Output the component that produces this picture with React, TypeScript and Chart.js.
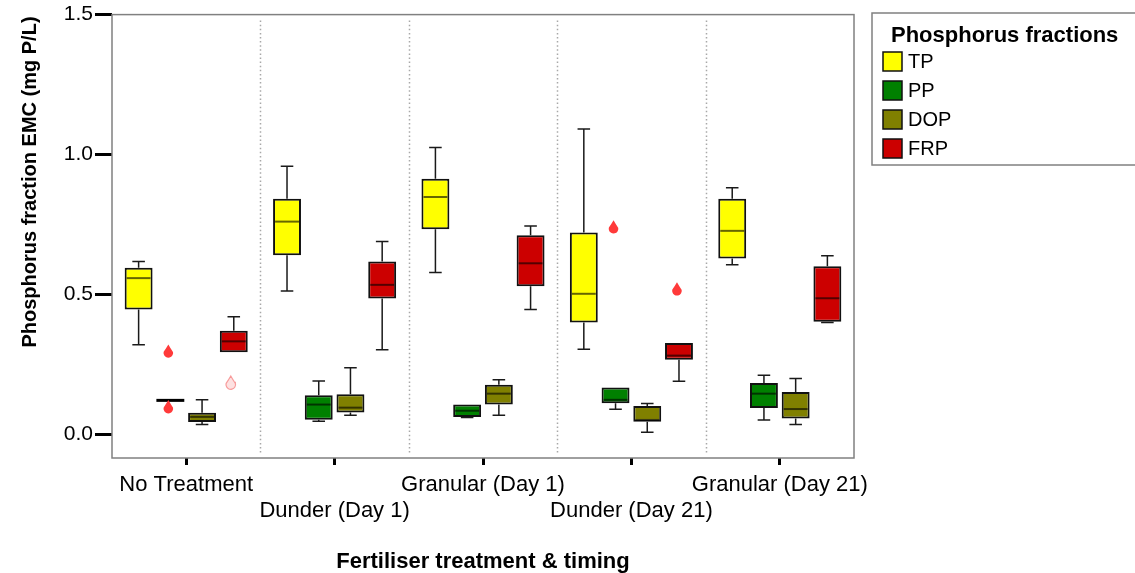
import React, { useEffect, useRef } from 'react';
import { Chart, registerables } from 'chart.js';

Chart.register(...registerables);

const CATEGORIES = ['No Treatment', 'Dunder (Day 1)', 'Granular (Day 1)', 'Dunder (Day 21)', 'Granular (Day 21)'];
const SERIES_NAMES = ['TP', 'PP', 'DOP', 'FRP'];
const SERIES_COLORS = ['#ffff00', '#008000', '#808000', '#cc0000'];
const Y_TICKS = [0, 0.5, 1.0, 1.5];

// [min, q1, median, q3, max] per category
const TP_STATS = [
  [0.320, 0.446, 0.558, 0.595, 0.617],
  [0.512, 0.640, 0.760, 0.842, 0.958],
  [0.578, 0.733, 0.848, 0.913, 1.025],
  [0.304, 0.399, 0.502, 0.721, 1.091],
  [0.606, 0.628, 0.727, 0.842, 0.881],
];
const PP_STATS = [
  [0.121, 0.121, 0.121, 0.121, 0.121],
  [0.046, 0.052, 0.106, 0.139, 0.190],
  [0.060, 0.062, 0.084, 0.106, 0.106],
  [0.089, 0.111, 0.123, 0.167, 0.167],
  [0.051, 0.094, 0.145, 0.183, 0.211],
];
const DOP_STATS = [
  [0.035, 0.044, 0.062, 0.077, 0.123],
  [0.068, 0.078, 0.095, 0.143, 0.238],
  [0.068, 0.106, 0.145, 0.177, 0.195],
  [0.007, 0.045, 0.051, 0.101, 0.110],
  [0.035, 0.056, 0.090, 0.151, 0.199],
];
const FRP_STATS = [
  [0.293, 0.293, 0.332, 0.370, 0.420],
  [0.302, 0.485, 0.534, 0.617, 0.689],
  [0.446, 0.529, 0.611, 0.711, 0.744],
  [0.189, 0.266, 0.281, 0.326, 0.326],
  [0.399, 0.402, 0.486, 0.600, 0.638],
];

// outliers (red drops) and faint extreme markers per category
const TP_OUTLIERS: number[][] = [[], [], [], [], []];
const PP_OUTLIERS: number[][] = [[0.296, 0.097], [], [], [0.740], []];
const DOP_OUTLIERS: number[][] = [[], [], [], [], []];
const FRP_OUTLIERS: number[][] = [[], [], [], [0.518], []];
const FRP_EXTREMES: number[][] = [[0.183], [], [], [], []];

const FONT = '"Liberation Sans", Arial, sans-serif';

export default function App() {
  const ref = useRef<HTMLCanvasElement>(null);

  useEffect(() => {
    const canvas = ref.current;
    if (!canvas) return;
    const statsList = [TP_STATS, PP_STATS, DOP_STATS, FRP_STATS];
    const outList = [TP_OUTLIERS, PP_OUTLIERS, DOP_OUTLIERS, FRP_OUTLIERS];
    const extList: number[][][] = [[[], [], [], [], []], [[], [], [], [], []], [[], [], [], [], []], FRP_EXTREMES];

    const datasets = SERIES_NAMES.map((name, k) => ({
      label: name,
      data: statsList[k].map((s) => [s[1], s[3]]),
      backgroundColor: SERIES_COLORS[k],
      borderColor: '#111111',
      borderWidth: 2,
      borderSkipped: false as const,
      categoryPercentage: 0.855,
      barPercentage: 0.88,
    }));

    const drawDrop = (ctx: CanvasRenderingContext2D, x: number, y: number, fill: string, stroke?: string) => {
      ctx.save();
      ctx.beginPath();
      ctx.moveTo(x, y - 7);
      ctx.quadraticCurveTo(x + 2, y - 3.5, x + 4.6, y + 0.5);
      ctx.arc(x, y + 1.5, 4.8, -0.08 * Math.PI, 1.08 * Math.PI, false);
      ctx.quadraticCurveTo(x - 2, y - 3.5, x, y - 7);
      ctx.closePath();
      if (stroke) {
        ctx.fillStyle = 'rgba(250,170,170,0.35)';
        ctx.fill();
        ctx.strokeStyle = stroke;
        ctx.lineWidth = 1.2;
        ctx.stroke();
      } else {
        ctx.fillStyle = fill;
        ctx.fill();
      }
      ctx.restore();
    };

    const boxPlugin = {
      id: 'boxplotParts',
      beforeDatasetsDraw(chart: any) {
        const { ctx, chartArea } = chart;
        const xs = chart.scales.x;
        const ys = chart.scales.y;
        ctx.save();
        // dotted dividers between treatments
        ctx.strokeStyle = '#a8a8a8';
        ctx.lineWidth = 1.5;
        ctx.setLineDash([1.5, 2.6]);
        for (let i = 0; i < CATEGORIES.length - 1; i++) {
          const px = Math.round(xs.getPixelForValue(i + 0.5)) + 0.5;
          ctx.beginPath();
          ctx.moveTo(px, chartArea.top + 6);
          ctx.lineTo(px, chartArea.bottom - 4);
          ctx.stroke();
        }
        ctx.setLineDash([]);
        // whiskers
        ctx.strokeStyle = '#1a1a1a';
        ctx.lineWidth = 1.5;
        chart.data.datasets.forEach((_ds: any, di: number) => {
          const meta = chart.getDatasetMeta(di);
          meta.data.forEach((bar: any, i: number) => {
            const { x, width } = bar.getProps(['x', 'width'], true);
            const [mn, q1, , q3, mx] = statsList[di][i];
            const cap = width * 0.45;
            const seg = (a: number, b: number) => {
              const pa = ys.getPixelForValue(a);
              const pb = ys.getPixelForValue(b);
              ctx.beginPath();
              ctx.moveTo(x, pa);
              ctx.lineTo(x, pb);
              ctx.moveTo(x - cap / 2, pb);
              ctx.lineTo(x + cap / 2, pb);
              ctx.stroke();
            };
            if (mx - q3 > 0.002) seg(q3, mx);
            if (q1 - mn > 0.002) seg(q1, mn);
          });
        });
        ctx.restore();
      },
      afterDatasetsDraw(chart: any) {
        const { ctx } = chart;
        const ys = chart.scales.y;
        ctx.save();
        chart.data.datasets.forEach((_ds: any, di: number) => {
          const meta = chart.getDatasetMeta(di);
          meta.data.forEach((bar: any, i: number) => {
            const { x, width } = bar.getProps(['x', 'width'], true);
            const [, q1, md, q3] = statsList[di][i];
            const py = ys.getPixelForValue(md);
            ctx.beginPath();
            if (q3 - q1 < 0.004) {
              ctx.strokeStyle = '#000';
              ctx.lineWidth = 3;
              ctx.moveTo(x - width / 2, py);
              ctx.lineTo(x + width / 2, py);
            } else {
              ctx.strokeStyle = 'rgba(0,0,0,0.6)';
              ctx.lineWidth = 2;
              ctx.moveTo(x - width / 2 + 2, py);
              ctx.lineTo(x + width / 2 - 2, py);
            }
            ctx.stroke();
            outList[di][i].forEach((v) => drawDrop(ctx, x - 2, ys.getPixelForValue(v), '#ff3a3a'));
            extList[di][i].forEach((v) => drawDrop(ctx, x - 3, ys.getPixelForValue(v), '', 'rgba(245,120,120,0.7)'));
          });
        });
        ctx.restore();
      },
      afterDraw(chart: any) {
        const { ctx, chartArea } = chart;
        ctx.save();
        // plot frame
        ctx.strokeStyle = '#808080';
        ctx.lineWidth = 1.5;
        ctx.strokeRect(chartArea.left, chartArea.top, chartArea.right - chartArea.left, chartArea.bottom - chartArea.top);
        // y-axis title
        ctx.translate(30, 182);
        ctx.rotate(-Math.PI / 2);
        ctx.fillStyle = '#000';
        ctx.font = `bold 20px ${FONT}`;
        ctx.textAlign = 'center';
        ctx.textBaseline = 'middle';
        ctx.fillText('Phosphorus fraction EMC (mg P/L)', 0, 0);
        ctx.restore();

        // legend
        ctx.save();
        const lx = 872, ly = 13;
        ctx.strokeStyle = '#808080';
        ctx.lineWidth = 1.5;
        ctx.strokeRect(lx, ly, 300, 152);
        ctx.fillStyle = '#000';
        ctx.font = `bold 22px ${FONT}`;
        ctx.textAlign = 'left';
        ctx.textBaseline = 'alphabetic';
        ctx.fillText('Phosphorus fractions', 891, 42);
        ctx.font = `20px ${FONT}`;
        ctx.textBaseline = 'middle';
        chart.data.datasets.forEach((ds: any, k: number) => {
          const top = 52 + k * 29;
          ctx.fillStyle = ds.backgroundColor;
          ctx.fillRect(883, top, 19, 19);
          ctx.strokeStyle = '#111';
          ctx.lineWidth = 1.5;
          ctx.strokeRect(883, top, 19, 19);
          ctx.fillStyle = '#000';
          ctx.fillText(ds.label, 908, top + 10);
        });
        ctx.restore();
      },
    };

    const chart = new Chart(canvas, {
      type: 'bar',
      data: { labels: CATEGORIES, datasets },
      options: {
        responsive: false,
        animation: false,
        devicePixelRatio: 1,
        layout: { padding: { top: 13, right: 281, bottom: 0, left: 0 } },
        plugins: { legend: { display: false }, tooltip: { enabled: false } },
        scales: {
          x: {
            type: 'category',
            offset: true,
            afterFit: (s: any) => { s.height = 115; },
            grid: { drawOnChartArea: false, offset: false, tickLength: 7, tickWidth: 3, tickColor: '#000' },
            border: { display: false },
            ticks: {
              autoSkip: false,
              maxRotation: 0,
              minRotation: 0,
              padding: 7,
              color: '#000',
              font: { family: FONT, size: 22, lineHeight: 1.18 },
              callback: (_v: any, i: number) => (i % 2 === 1 ? ['', CATEGORIES[i]] : CATEGORIES[i]),
            },
            title: {
              display: true,
              text: 'Fertiliser treatment & timing',
              color: '#000',
              font: { family: FONT, size: 22, weight: 'bold', lineHeight: 1 },
              padding: { top: 0, bottom: 0 },
            },
          },
          y: {
            type: 'linear',
            min: -0.085,
            max: 1.5,
            afterFit: (s: any) => { s.width = 112; },
            afterBuildTicks: (s: any) => { s.ticks = Y_TICKS.map((v) => ({ value: v })); },
            grid: { drawOnChartArea: false, tickLength: 17, tickWidth: 3, tickColor: '#000' },
            border: { display: false },
            ticks: {
              padding: 2,
              color: '#000',
              font: { family: FONT, size: 21 },
              callback: (v: any) => Number(v).toFixed(1),
            },
          },
        },
      },
      plugins: [boxPlugin],
    } as any);

    return () => chart.destroy();
  }, []);

  return (
    <div style={{ position: 'fixed', left: 0, top: 0, width: 1135, height: 573, background: '#fff' }}>
      <canvas ref={ref} width={1135} height={573} style={{ display: 'block' }} />
    </div>
  );
}
